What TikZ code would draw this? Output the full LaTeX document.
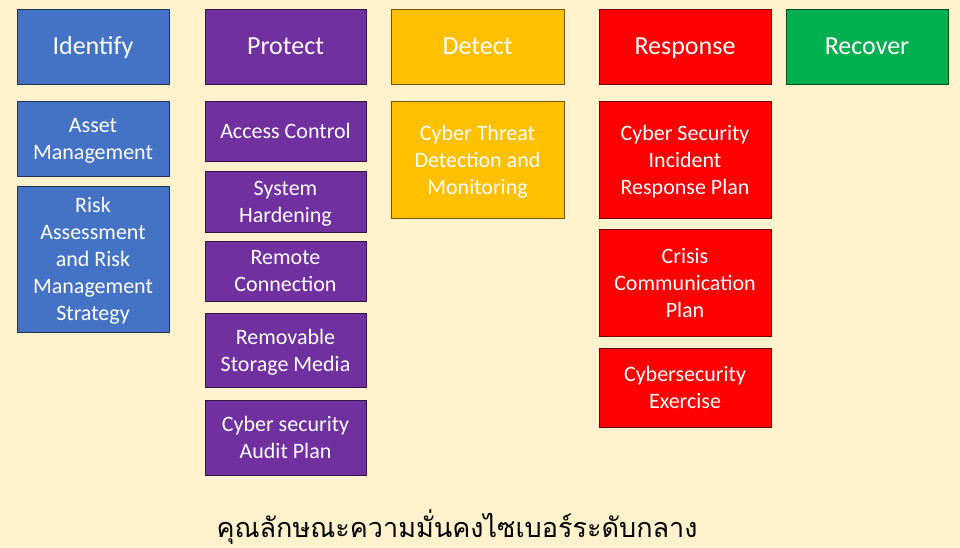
\documentclass[tikz,border=0pt]{standalone}
\usepackage{fontspec}
\setmainfont{Carlito}
\newfontfamily\thaifont[Script=Thai]{Loma}
\usepackage{xcolor}
\usetikzlibrary{positioning}
\definecolor{bgcream}{HTML}{FFF2CC}
\definecolor{fillidentify}{HTML}{4472C4}
\definecolor{fillprotect}{HTML}{7030A0}
\definecolor{filldetect}{HTML}{FFC000}
\definecolor{fillresponse}{HTML}{FF0000}
\definecolor{fillrecover}{HTML}{00B050}
\tikzset{
  box/.style={fill=#1, draw=#1!45!black, line width=0.8pt, outer sep=0pt, text=white,
    align=center, inner sep=2pt},
  hdr/.style={box=#1, minimum height=75pt, anchor=north west, text height=16.5pt, text depth=0pt,
    font=\fontsize{26}{31}\selectfont},
  item/.style={box=#1, text depth=0pt, font=\fontsize{22}{27}\selectfont},
  pagetitle/.style={font=\thaifont\fontsize{27}{32}\selectfont, text=black, anchor=base},
}

\begin{document}
\begin{tikzpicture}[x=1pt, y=-1pt]

\useasboundingbox (0,0) rectangle (960,548);
\fill[bgcream] (0,0) rectangle (960,548);

%% =====================================================================
%% Header row
%% =====================================================================
\node[hdr=fillidentify, minimum width=152pt] (id_hdr) at (17,9) {Identify};
\node[hdr=fillprotect, minimum width=161pt] (pr_hdr) at (205,9) {Protect};
\node[hdr=filldetect, minimum width=173pt] (de_hdr) at (391,9) {Detect};
\node[hdr=fillresponse, minimum width=172pt] (rs_hdr) at (599,9) {Response};
\node[hdr=fillrecover, minimum width=162pt] (rc_hdr) at (786,9) {Recover};

%% =====================================================================
%% Identify
%% =====================================================================
\node[item=fillidentify, minimum width=152pt, minimum height=75pt, below=17pt of id_hdr] (id_asset) {Asset\\Management};
\node[item=fillidentify, minimum width=152pt, minimum height=146pt, below=10pt of id_asset] (id_risk) {Risk\\Assessment\\and Risk\\Management\\Strategy};

%% =====================================================================
%% Protect
%% =====================================================================
\node[item=fillprotect, minimum width=161pt, minimum height=60pt, below=17pt of pr_hdr] (pr_access) {Access Control};
\node[item=fillprotect, minimum width=161pt, minimum height=61pt, below=10pt of pr_access] (pr_harden) {System\\Hardening};
\node[item=fillprotect, minimum width=161pt, minimum height=60pt, below=9pt of pr_harden] (pr_remote) {Remote\\Connection};
\node[item=fillprotect, minimum width=161pt, minimum height=74pt, below=12pt of pr_remote] (pr_media) {Removable\\Storage Media};
\node[item=fillprotect, minimum width=161pt, minimum height=75pt, below=13pt of pr_media] (pr_audit) {Cyber security\\Audit Plan};

%% =====================================================================
%% Detect
%% =====================================================================
\node[item=filldetect, minimum width=173pt, minimum height=117pt, below=17pt of de_hdr] (de_threat) {Cyber Threat\\Detection and\\Monitoring};

%% =====================================================================
%% Response
%% =====================================================================
\node[item=fillresponse, minimum width=172pt, minimum height=117pt, below=17pt of rs_hdr] (rs_plan) {Cyber Security\\Incident\\Response Plan};
\node[item=fillresponse, minimum width=172pt, minimum height=107pt, below=11pt of rs_plan] (rs_crisis) {Crisis\\Communication\\Plan};
\node[item=fillresponse, minimum width=172pt, minimum height=79pt, below=12pt of rs_crisis] (rs_exercise) {Cybersecurity\\Exercise};

\node[pagetitle] (title) at (457,537) {คุณลักษณะความมั่นคงไซเบอร์ระดับกลาง};

\end{tikzpicture}
\end{document}
